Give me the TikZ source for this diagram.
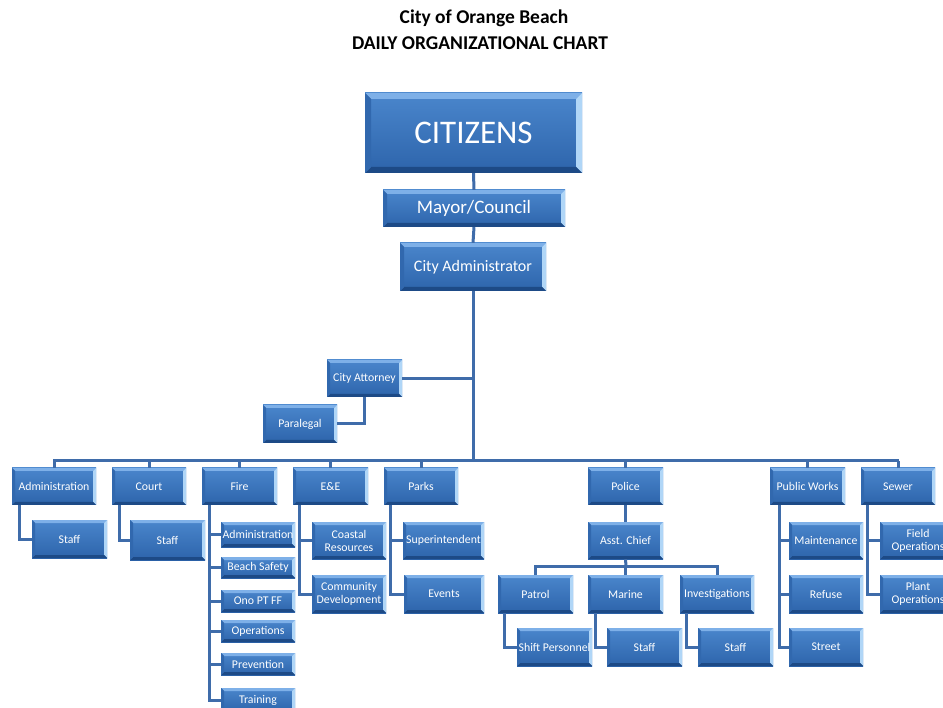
\documentclass[tikz,border=0pt]{standalone}
\usepackage{fontspec}
\setmainfont{Carlito}
\definecolor{boxtop}{HTML}{4A86CC}
\definecolor{boxbot}{HTML}{2D64AB}
\definecolor{bvtop}{HTML}{7EB0E8}
\definecolor{bvright}{HTML}{B0D6F7}
\definecolor{bvbot}{HTML}{1D4A86}
\definecolor{bvleft}{HTML}{3168AE}
\definecolor{lineblue}{HTML}{3F6CAA}
\newcommand\bw{3pt}
\tikzset{
  bw/.code={\renewcommand\bw{#1}},
  bx/.style={top color=boxtop, bottom color=boxbot, text=white, inner sep=0pt, align=center,
    font=\fontsize{11.8}{13}\selectfont,
    path picture={
      \coordinate (ppnw) at (path picture bounding box.north west);
      \coordinate (ppne) at (path picture bounding box.north east);
      \coordinate (ppsw) at (path picture bounding box.south west);
      \coordinate (ppse) at (path picture bounding box.south east);
      \fill[bvtop] (ppnw) -- (ppne) -- ([xshift=-\bw,yshift=-\bw]ppne) -- ([xshift=\bw,yshift=-\bw]ppnw) -- cycle;
      \fill[bvright] (ppne) -- (ppse) -- ([xshift=-\bw,yshift=\bw]ppse) -- ([xshift=-\bw,yshift=-\bw]ppne) -- cycle;
      \fill[bvbot] (ppse) -- (ppsw) -- ([xshift=\bw,yshift=\bw]ppsw) -- ([xshift=-\bw,yshift=\bw]ppse) -- cycle;
      \fill[bvleft] (ppsw) -- (ppnw) -- ([xshift=\bw,yshift=-\bw]ppnw) -- ([xshift=\bw,yshift=\bw]ppsw) -- cycle;
    }},
  conn/.style={draw=lineblue, line width=3pt},
  ttl/.style={font=\bfseries\fontsize{19.5}{22}\selectfont, text=black}
}
\newcommand\bx[7][]{\node[bx,#1,minimum width={(#5-#3)*1pt},minimum height={(#6-#4)*1pt}] (#2) at ({(#3+#5)/2},{(#4+#6)/2}) {#7};}
\begin{document}
\begin{tikzpicture}[x=1pt,y=-1pt]
\useasboundingbox (0,0) rectangle (943,708);
\clip (0,0) rectangle (943,708);
\fill[white] (0,0) rectangle (943,708);
\node[ttl] (t1) at (484,18) {City of Orange Beach};
\node[ttl] (t2) at (480,43) {DAILY ORGANIZATIONAL CHART};
% boxes
\bx[bw=6pt,font=\fontsize{33}{36}\selectfont]{cit}{365}{93}{582}{173}{CITIZENS}
\bx[bw=4pt,font=\fontsize{19}{22}\selectfont]{mayor}{383}{190}{565}{227}{Mayor/Council}
\bx[bw=4pt,font=\fontsize{16}{19}\selectfont]{cadmin}{400}{243}{546}{291}{City Administrator}
\bx{atty}{327}{360}{402}{397}{City Attorney}
\bx{para}{263}{405}{337}{443}{Paralegal}
\bx{adm}{12}{468}{96}{505}{Administration}
\bx{court}{112}{468}{186}{505}{Court}
\bx{fire}{202}{468}{277}{505}{Fire}
\bx{ene}{293}{468}{368}{505}{E\&E}
\bx{parks}{384}{468}{458}{505}{Parks}
\bx{police}{588}{468}{663}{505}{Police}
\bx{pw}{770}{468}{845}{505}{Public Works}
\bx{sewer}{861}{468}{935}{505}{Sewer}
\bx{admstaff}{32}{520}{107}{558}{Staff}
\bx{courtstaff}{130}{520}{205}{560}{Staff}
\bx{fadm}{221}{522}{295}{547}{Administration}
\bx{fbs}{221}{557}{295}{578}{Beach Safety}
\bx{fono}{221}{590}{295}{612}{Ono PT FF}
\bx{fops}{221}{620}{295}{642}{Operations}
\bx{fprev}{221}{653}{295}{675}{Prevention}
\bx{ftrain}{221}{688}{295}{712}{Training}
\bx{coastal}{312}{522}{386}{559}{Coastal\\Resources}
\bx{commdev}{312}{575}{386}{613}{Community\\Development}
\bx{super}{403}{522}{484}{559}{Superintendent}
\bx{events}{404}{575}{484}{613}{Events}
\bx{asst}{588}{522}{663}{559}{Asst. Chief}
\bx{patrol}{498}{575}{573}{613}{Patrol}
\bx{marine}{588}{575}{663}{613}{Marine}
\bx{inv}{680}{575}{754}{613}{Investigations}
\bx{shift}{517}{628}{592}{666}{Shift Personnel}
\bx{mstaff}{607}{628}{682}{666}{Staff}
\bx{istaff}{698}{628}{773}{666}{Staff}
\bx{maint}{789}{522}{863}{559}{Maintenance}
\bx{refuse}{789}{575}{863}{613}{Refuse}
\bx{street}{789}{628}{863}{666}{Street}
\bx{field}{880}{522}{956}{559}{Field\\Operations}
\bx{plant}{880}{575}{956}{613}{Plant\\Operations}
% connectors
\coordinate (busL) at (53,461);
\coordinate (busR) at (899,461);
\coordinate (pbus) at (626,566);
\draw[conn] (cit.south) -- (mayor.north);
\draw[conn] (mayor.south) -- (cadmin.north);
\draw[conn] (cadmin.south) -- (cadmin.south |- busL);
\draw[conn] (atty.east) -- (atty.east -| cadmin.south);
\draw[conn] (atty.south) |- (para.east);
\draw[conn] (busL) -- (busR);
\foreach \n in {adm,court,fire,ene,parks,police,pw,sewer}
  \draw[conn] (\n.north) -- (\n.north |- busL);
\draw[conn] ([xshift=8pt]adm.south west) |- (admstaff.west);
\draw[conn] ([xshift=8pt]court.south west) |- (courtstaff.west);
\foreach \c in {fadm,fbs,fono,fops,fprev,ftrain}
  \draw[conn] ([xshift=8pt]fire.south west) |- (\c.west);
\foreach \c in {coastal,commdev}
  \draw[conn] ([xshift=7pt]ene.south west) |- (\c.west);
\foreach \c in {super,events}
  \draw[conn] ([xshift=7pt]parks.south west) |- (\c.west);
\draw[conn] (police.south) -- (asst.north);
\draw[conn] (asst.south) -- (pbus);
\draw[conn] (patrol.north) |- (pbus) -| (inv.north);
\draw[conn] (marine.north) -- (marine.north |- pbus);
\draw[conn] ([xshift=7pt]patrol.south west) |- (shift.west);
\draw[conn] ([xshift=8pt]marine.south west) |- (mstaff.west);
\draw[conn] ([xshift=7pt]inv.south west) |- (istaff.west);
\foreach \c in {maint,refuse,street}
  \draw[conn] ([xshift=10pt]pw.south west) |- (\c.west);
\foreach \c in {field,plant}
  \draw[conn] ([xshift=7pt]sewer.south west) |- (\c.west);
\end{tikzpicture}
\end{document}
